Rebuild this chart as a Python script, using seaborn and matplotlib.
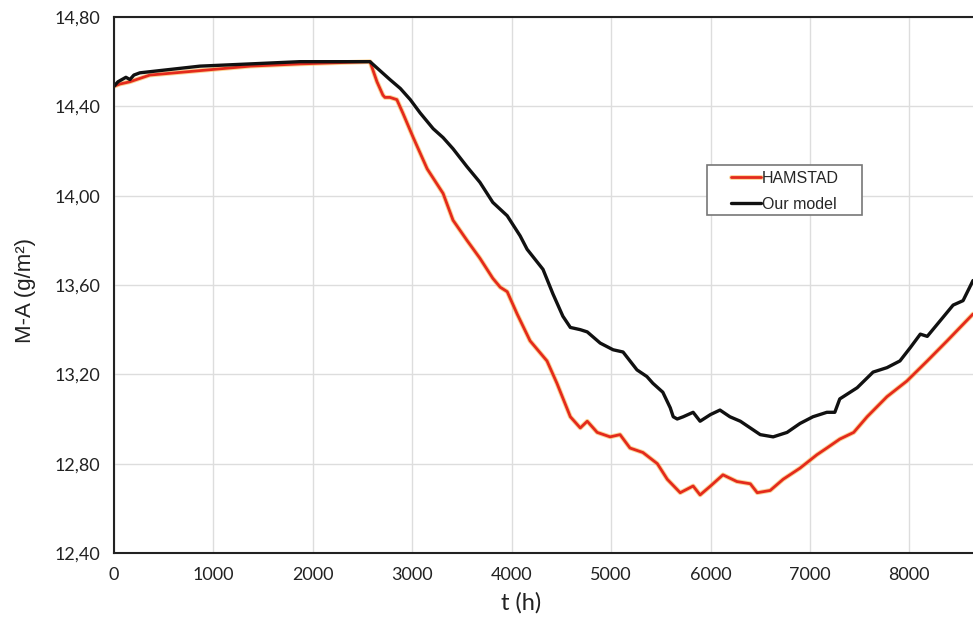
import matplotlib
matplotlib.use('Agg')
import matplotlib.pyplot as plt
import matplotlib.ticker as mticker
import matplotlib.patheffects as pe
from matplotlib.patches import Rectangle
import seaborn as sns

# HAMSTAD reference curve (t in h, M-A in g/m2)
t_hamstad = [0, 60, 160, 360, 865, 1370, 1870, 2575, 2645, 2705, 2725, 2775,
             2845, 2905, 3010, 3150, 3310, 3410, 3550, 3680, 3810, 3885, 3955,
             4055, 4185, 4355, 4455, 4590, 4690, 4760, 4860, 4990, 5090, 5190,
             5320, 5465, 5565, 5695, 5825, 5895, 6000, 6125, 6265, 6400, 6470,
             6600, 6730, 6900, 7070, 7170, 7300, 7440, 7575, 7775, 7975, 8180,
             8380, 8640]
m_hamstad = [14.49, 14.50, 14.51, 14.54, 14.56, 14.58, 14.59, 14.60, 14.51, 14.45,
             14.44, 14.44, 14.43, 14.37, 14.26, 14.12, 14.01, 13.89, 13.80, 13.72,
             13.63, 13.59, 13.57, 13.47, 13.35, 13.26, 13.16, 13.01, 12.96, 12.99,
             12.94, 12.92, 12.93, 12.87, 12.85, 12.80, 12.73, 12.67, 12.70, 12.66,
             12.70, 12.75, 12.72, 12.71, 12.67, 12.68, 12.73, 12.78, 12.84, 12.87,
             12.91, 12.94, 13.01, 13.10, 13.17, 13.26, 13.35, 13.47]

# our model curve
t_model = [0, 40, 80, 120, 160, 200, 260, 460, 865, 1370, 1870, 2575, 2675, 2775,
           2880, 2980, 3080, 3210, 3310, 3410, 3550, 3680, 3810, 3955, 4085, 4155,
           4315, 4415, 4515, 4590, 4690, 4760, 4890, 5020, 5120, 5260, 5360, 5420,
           5520, 5595, 5625, 5665, 5725, 5825, 5895, 6000, 6095, 6195, 6300, 6400,
           6500, 6630, 6770, 6900, 7030, 7170, 7250, 7300, 7475, 7635, 7775, 7905,
           8010, 8110, 8180, 8310, 8440, 8540, 8640]
m_model = [14.49, 14.51, 14.52, 14.53, 14.52, 14.54, 14.55, 14.56, 14.58, 14.59,
           14.60, 14.60, 14.56, 14.52, 14.48, 14.43, 14.37, 14.30, 14.26, 14.21,
           14.13, 14.06, 13.97, 13.91, 13.82, 13.76, 13.67, 13.56, 13.46, 13.41,
           13.40, 13.39, 13.34, 13.31, 13.30, 13.22, 13.19, 13.16, 13.12, 13.05,
           13.01, 13.00, 13.01, 13.03, 12.99, 13.02, 13.04, 13.01, 12.99, 12.96,
           12.93, 12.92, 12.94, 12.98, 13.01, 13.03, 13.03, 13.09, 13.14, 13.21,
           13.23, 13.26, 13.32, 13.38, 13.37, 13.44, 13.51, 13.53, 13.62]

y_ticks = [12.4, 12.8, 13.2, 13.6, 14.0, 14.4, 14.8]
x_ticks = [0, 1000, 2000, 3000, 4000, 5000, 6000, 7000, 8000]

sns.set_style('white')
plt.rcParams['font.family'] = ['Lato', 'DejaVu Sans']

fig = plt.figure(figsize=(9.73, 6.26), dpi=100)
ax = fig.add_axes([114 / 973, 73 / 626, 859 / 973, 536 / 626])

sns.lineplot(x=t_hamstad, y=m_hamstad, ax=ax, color='#e42a1c', lw=2.0,
             estimator=None, sort=False, label='HAMSTAD',
             path_effects=[pe.Stroke(linewidth=3.4, foreground='#f8b040', alpha=0.55),
                           pe.Normal()])
sns.lineplot(x=t_model, y=m_model, ax=ax, color='#111111', lw=2.4,
             estimator=None, sort=False, label='Our model')

ax.set_xlim(0, 8640)
ax.set_ylim(12.4, 14.8)
ax.set_xticks(x_ticks)
ax.set_yticks(y_ticks)
ax.yaxis.set_major_formatter(mticker.FuncFormatter(lambda v, p: f'{v:.2f}'.replace('.', ',')))
ax.grid(True, color='#dddddd', lw=1)
ax.tick_params(axis='both', direction='out', length=4, width=1, color='#555555',
               labelsize=13, labelcolor='#222222', pad=6)

for side in ['left', 'bottom', 'top']:
    ax.spines[side].set_color('#222222')
    ax.spines[side].set_linewidth(1.5)
ax.spines['right'].set_visible(False)

ax.set_xlabel('t (h)', fontsize=17, color='#222222')
ax.xaxis.set_label_coords(0.474, -0.072)
ax.set_ylabel('M-A (g/m²)', fontsize=16, color='#222222', family='Liberation Sans')
ax.yaxis.set_label_coords(-0.091, 0.49)

# legend: framed box drawn separately to get the wide side padding
ax.add_patch(Rectangle((0.690, 0.631), 0.181, 0.093, transform=ax.transAxes,
                       facecolor='white', edgecolor='#777777', lw=1.2, zorder=4))
leg = ax.legend(loc='upper left', bbox_to_anchor=(0.718, 0.713), borderaxespad=0,
                borderpad=0, frameon=False, handlelength=1.9, handletextpad=0.05,
                labelspacing=0.7, prop={'family': 'Liberation Sans', 'size': 11.5})
leg.set_zorder(5)

fig.savefig('out.png', dpi=100)
